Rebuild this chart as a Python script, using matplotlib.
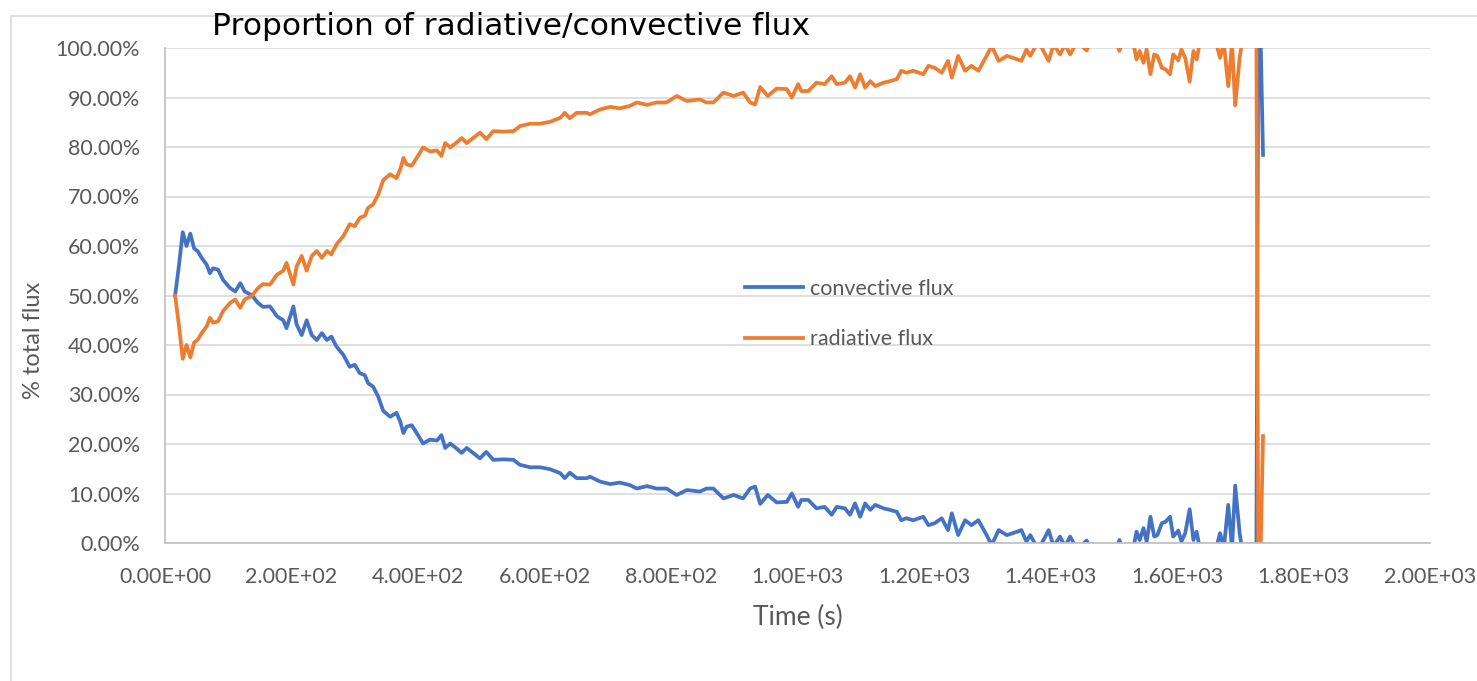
import matplotlib
matplotlib.use('Agg')
import matplotlib.pyplot as plt
from matplotlib.patches import Rectangle
from matplotlib.ticker import FuncFormatter, MultipleLocator

# time (s)
time = [16, 22, 28, 34, 40, 46, 52, 58, 66, 71, 76, 84, 92, 103, 111, 119, 126, 137, 147, 155,
        166, 177, 187, 192, 203, 208, 216, 224, 232, 240, 248, 256, 263, 271, 282, 292, 300, 308, 316, 321,
        329, 337, 345, 356, 366, 372, 377, 382, 390, 398, 408, 419, 430, 437, 443, 451, 461, 469, 477, 485,
        498, 508, 519, 535, 551, 561, 577, 593, 609, 625, 632, 640, 651, 667, 672, 688, 704, 719, 735, 746,
        762, 777, 793, 809, 825, 846, 856, 867, 883, 899, 914, 925, 933, 941, 953, 967, 983, 991, 1001, 1006,
        1017, 1030, 1043, 1054, 1062, 1075, 1083, 1091, 1099, 1107, 1115, 1123, 1136, 1146, 1157, 1164, 1172, 1183, 1199, 1207,
        1217, 1228, 1238, 1244, 1254, 1265, 1275, 1286, 1299, 1307, 1318, 1331, 1341, 1354, 1362, 1368, 1378, 1386, 1397, 1405,
        1415, 1423, 1431, 1441, 1449, 1457, 1467, 1480, 1494, 1503, 1509, 1515, 1525, 1531, 1536, 1541, 1547, 1552, 1558, 1564,
        1569, 1576, 1582, 1589, 1594, 1602, 1607, 1613, 1620, 1626, 1631, 1636, 1645, 1655, 1662, 1668, 1674, 1681, 1687, 1692,
        1699, 1704, 1712, 1720, 1725, 1729, 1736]

# % of total flux
convective = [50.0, 56.0, 62.8, 60.0, 62.5, 59.5, 58.9, 57.6, 56.2, 54.5, 55.5, 55.2, 53.1, 51.5, 50.8, 52.5, 50.8, 50.1, 48.5, 47.7,
              47.8, 45.8, 45.0, 43.4, 47.8, 44.2, 42.0, 45.0, 42.0, 41.0, 42.4, 41.0, 41.7, 39.7, 38.0, 35.6, 36.0, 34.3, 33.9, 32.3,
              31.6, 29.6, 26.7, 25.5, 26.3, 24.5, 22.2, 23.5, 23.8, 22.2, 20.1, 20.9, 20.7, 21.8, 19.2, 20.1, 19.1, 18.2, 19.2, 18.4,
              17.1, 18.4, 16.8, 16.9, 16.8, 15.8, 15.3, 15.3, 14.9, 14.1, 13.1, 14.2, 13.1, 13.1, 13.4, 12.4, 11.9, 12.2, 11.7, 11.0,
              11.5, 11.0, 11.0, 9.7, 10.7, 10.4, 11.0, 11.0, 9.0, 9.7, 9.0, 11.0, 11.4, 7.9, 9.7, 8.2, 8.3, 10.0, 7.3, 8.7,
              8.7, 7.0, 7.3, 5.7, 7.3, 7.0, 5.7, 8.0, 5.3, 8.0, 6.7, 7.7, 7.0, 6.7, 6.3, 4.6, 5.0, 4.6, 5.3, 3.6,
              4.0, 5.0, 2.6, 6.0, 1.6, 4.6, 3.6, 4.6, 1.6, -0.4, 2.6, 1.6, 2.0, 2.6, 0.3, 1.6, -0.7, -0.1, 2.6, -0.7,
              1.3, -0.7, 1.3, -1.0, -0.5, 0.5, -2.0, -3.0, -2.0, -1.5, 0.6, -2.0, -3.0, -1.0, 2.3, 0.6, 3.0, 0.3, 5.3, 1.3,
              1.6, 4.0, 4.3, 5.3, 1.3, 2.5, 0.3, 2.0, 6.8, 0.6, 2.3, -1.0, -3.0, -4.0, -1.0, 2.0, -1.0, 7.7, -1.0, 11.6,
              2.0, -2.0, -4.0, -6.0, -20.0, 121.6, 78.4]

radiative = [50.0, 44.0, 37.2, 40.0, 37.5, 40.5, 41.1, 42.4, 43.8, 45.5, 44.5, 44.8, 46.9, 48.5, 49.2, 47.5, 49.2, 49.9, 51.5, 52.3,
             52.2, 54.2, 55.0, 56.6, 52.2, 55.8, 58.0, 55.0, 58.0, 59.0, 57.6, 59.0, 58.3, 60.3, 62.0, 64.4, 64.0, 65.7, 66.1, 67.7,
             68.4, 70.4, 73.3, 74.5, 73.7, 75.5, 77.8, 76.5, 76.2, 77.8, 79.9, 79.1, 79.3, 78.2, 80.8, 79.9, 80.9, 81.8, 80.8, 81.6,
             82.9, 81.6, 83.2, 83.1, 83.2, 84.2, 84.7, 84.7, 85.1, 85.9, 86.9, 85.8, 86.9, 86.9, 86.6, 87.6, 88.1, 87.8, 88.3, 89.0,
             88.5, 89.0, 89.0, 90.3, 89.3, 89.6, 89.0, 89.0, 91.0, 90.3, 91.0, 89.0, 88.6, 92.1, 90.3, 91.8, 91.7, 90.0, 92.7, 91.3,
             91.3, 93.0, 92.7, 94.3, 92.7, 93.0, 94.3, 92.0, 94.7, 92.0, 93.3, 92.3, 93.0, 93.3, 93.7, 95.4, 95.0, 95.4, 94.7, 96.4,
             96.0, 95.0, 97.4, 94.0, 98.4, 95.4, 96.4, 95.4, 98.4, 100.4, 97.4, 98.4, 98.0, 97.4, 99.7, 98.4, 100.7, 100.1, 97.4, 100.7,
             98.7, 100.7, 98.7, 101.0, 100.5, 99.5, 102.0, 103.0, 102.0, 101.5, 99.4, 102.0, 103.0, 101.0, 97.7, 99.4, 97.0, 99.7, 94.7, 98.7,
             98.4, 96.0, 95.7, 94.7, 98.7, 97.5, 99.7, 98.0, 93.2, 99.4, 97.7, 101.0, 103.0, 104.0, 101.0, 98.0, 101.0, 92.3, 101.0, 88.4,
             98.0, 102.0, 104.0, 106.0, 120.0, -21.6, 21.6]

tick_font = 'Lato'
grey = '#595959'

fig = plt.figure(figsize=(14.77, 6.81), dpi=100)
ax = fig.add_axes([165/1477, 1 - 543/681, (1430 - 165)/1477, (543 - 48)/681])

ax.plot(time, convective, color='#4472C4', lw=2.7, label='convective flux', solid_joinstyle='round')
ax.plot(time, radiative, color='#ED7D31', lw=2.7, label='radiative flux', solid_joinstyle='round')

ax.set_xlim(0, 2000)
ax.set_ylim(0, 100)
ax.xaxis.set_major_locator(MultipleLocator(200))
ax.yaxis.set_major_locator(MultipleLocator(10))
ax.xaxis.set_major_formatter(FuncFormatter(lambda v, p: f"{v:.2E}"))
ax.yaxis.set_major_formatter(FuncFormatter(lambda v, p: f"{v:.2f}%"))
ax.tick_params(length=0, labelsize=15.5, labelcolor=grey)
ax.tick_params(axis='y', pad=18)
ax.tick_params(axis='x', pad=17)
for lab in ax.get_xticklabels() + ax.get_yticklabels():
    lab.set_fontfamily(tick_font)

ax.grid(axis='y', color='#D9D9D9', lw=1.2)
ax.set_axisbelow(True)
for s in ['top', 'right']:
    ax.spines[s].set_visible(False)
ax.spines['left'].set_color('#BFBFBF')
ax.spines['bottom'].set_color('#BFBFBF')
ax.spines['left'].set_linewidth(1.2)
ax.spines['bottom'].set_linewidth(1.2)

ax.set_xlabel('Time (s)', fontsize=19, color=grey, family=tick_font, labelpad=13)
ax.set_ylabel('% total flux', fontsize=17, color=grey, family=tick_font)
ax.yaxis.set_label_coords(44/1477, 0.5, transform=fig.transFigure)

ax.legend(loc='upper left', bbox_to_anchor=(745/1477, 1 - 279/681), bbox_transform=fig.transFigure,
          frameon=False, prop={'family': tick_font, 'size': 15.5}, labelcolor=grey,
          handlelength=2.7, handletextpad=0.3, labelspacing=1.4, borderpad=0, borderaxespad=0)

# chart area border
fig.add_artist(Rectangle((11/1477, -0.1), 1.2, 1.1 - 16/681, transform=fig.transFigure,
                         fill=False, edgecolor='#D9D9D9', lw=1.2))

fig.text(212/1477, 1 - 35/681, 'Proportion of radiative/convective flux', fontsize=22.5,
         color='black', ha='left', va='baseline')

fig.savefig('out.png', dpi=100)
